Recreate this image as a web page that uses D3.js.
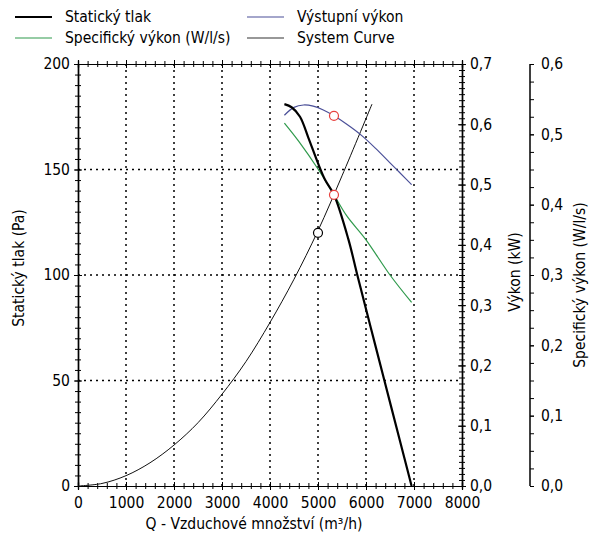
<!DOCTYPE html>
<html>
<head>
<meta charset="utf-8">
<script src="https://cdn.jsdelivr.net/npm/d3@7"></script>
<style>
  body { margin: 0; background: #fff; }
  text { font-family: "DejaVu Sans Condensed", "DejaVu Sans", sans-serif; font-size: 15.5px; fill: #000; }
  .axis path, .axis line { stroke: #000; }
  .grid line { stroke: #000; stroke-width: 1.5; stroke-dasharray: 2,4; }
</style>
</head>
<body>
<svg id="chart" width="590" height="537"></svg>
<script>
// ---- data ----
const qTicks = [0, 1000, 2000, 3000, 4000, 5000, 6000, 7000, 8000];
const paTicks = [0, 50, 100, 150, 200];
const kwTicks = [0, 0.1, 0.2, 0.3, 0.4, 0.5, 0.6, 0.7];
const sfpTicks = [0, 0.1, 0.2, 0.3, 0.4, 0.5, 0.6];

// Statický tlak [Q m3/h, Pa]
const staticPressure = [
  [4300, 181], [4450, 179.5], [4625, 175], [4800, 165], [5000, 153],
  [5150, 145], [5333, 138], [5632, 117], [5819, 100], [6100, 75],
  [6383, 50], [6700, 22], [6950, 0]
];
// Výstupní výkon [Q, kW]
const outputPower = [
  [4300, 0.615], [4500, 0.628], [4700, 0.632], [4900, 0.630], [5100, 0.624],
  [5333, 0.614], [5600, 0.600], [5900, 0.582], [6200, 0.560], [6500, 0.536],
  [6700, 0.520], [6950, 0.500]
];
// Specifický výkon [Q, W/l/s]
const specificPower = [
  [4300, 0.516], [4600, 0.490], [5007, 0.450], [5333, 0.414], [5600, 0.384],
  [6000, 0.350], [6500, 0.300], [6950, 0.261]
];
// System Curve [Q, Pa]
const systemCurve = [
  [0, 0], [500, 1.2], [1000, 4.9], [1500, 11], [2000, 19.4], [2500, 30],
  [3000, 43.5], [3500, 59], [4000, 77.5], [4500, 98], [5000, 121],
  [5500, 147], [6125, 181]
];
// operating points
const pressurePoints = [{ q: 5333, v: 138, c: "#e8423f" }, { q: 5000, v: 120, c: "#000" }];
const powerPoints = [{ q: 5333, v: 0.614, c: "#e8423f" }];

const legendItems = [
  { label: "Statický tlak", color: "#000", w: 2 },
  { label: "Specifický výkon (W/l/s)", color: "#2f9a4c", w: 1.2 },
  { label: "Výstupní výkon", color: "#4a4f98", w: 1.2 },
  { label: "System Curve", color: "#333", w: 1.2 }
];

// ---- layout ----
const svg = d3.select("#chart");
const pLeft = 78, pRight = 462, pTop = 64, pBottom = 486;

const x = d3.scaleLinear().domain([0, 8000]).range([pLeft, pRight]);
const yPa = d3.scaleLinear().domain([0, 200]).range([pBottom, pTop]);
const yKw = d3.scaleLinear().domain([0, 0.7]).range([pBottom, pTop]);
const ySfp = d3.scaleLinear().domain([0, 0.6]).range([pBottom, pTop]);

const comma = v => d3.format(".1f")(v).replace(".", ",");

// grid
const grid = svg.append("g").attr("class", "grid");
grid.selectAll("line.v")
  .data(qTicks.filter(d => d > 0 && d < 8000))
  .enter().append("line")
  .attr("x1", d => x(d)).attr("x2", d => x(d))
  .attr("y1", pTop).attr("y2", pBottom);
grid.selectAll("line.h")
  .data(paTicks.filter(d => d > 0 && d < 200))
  .enter().append("line")
  .attr("x1", pLeft).attr("x2", pRight)
  .attr("y1", d => yPa(d)).attr("y2", d => yPa(d));

// helper for ticks that cross the axis line
function crossAxis(outer, inner, pos, major, minor, fmt) {
  const g = svg.append("g").attr("class", "axis").attr("transform", pos);
  g.append("g").call(outer.tickValues(minor).tickSize(3).tickFormat(""));
  g.append("g").call(inner.tickValues(minor).tickSize(3).tickFormat(""));
  g.append("g").call(inner.tickValues(major).tickSize(4).tickFormat(""));
  const lab = g.append("g").call(outer.tickValues(major).tickSize(4).tickPadding(4).tickFormat(fmt));
  g.selectAll(".domain").attr("stroke-width", 1.2);
  return lab;
}

const d1 = d3.range(0, 8001, 200);
const bottomAx = crossAxis(d3.axisBottom(x), d3.axisTop(x), `translate(0,${pBottom})`, qTicks, d1, d3.format("d"));
bottomAx.selectAll("text").attr("dy", "0.9em");
crossAxis(d3.axisTop(x), d3.axisBottom(x), `translate(0,${pTop})`, qTicks, d1, "");

const leftAx = crossAxis(d3.axisLeft(yPa), d3.axisRight(yPa), `translate(${pLeft},0)`, paTicks, d3.range(0, 201, 5), d3.format("d"));
const rightAx = crossAxis(d3.axisRight(yKw), d3.axisLeft(yKw), `translate(${pRight},0)`, kwTicks, d3.range(0, 0.7001, 0.01), comma);

// second right axis (specific power)
const sfpAx = svg.append("g").attr("class", "axis").attr("transform", "translate(530,0)");
sfpAx.append("g").call(d3.axisRight(ySfp).tickValues(d3.range(0, 0.6001, 0.025)).tickSize(4).tickFormat(""));
sfpAx.append("g").call(d3.axisRight(ySfp).tickValues(sfpTicks).tickSize(4).tickPadding(7).tickFormat(comma));
sfpAx.selectAll(".domain").attr("d", `M0,${pTop}V${pBottom}`).attr("stroke", "#444");
sfpAx.selectAll(".tick line").attr("stroke", "#444");

svg.selectAll(".axis text").style("font-family", '"DejaVu Sans Condensed", "DejaVu Sans", sans-serif').style("font-size", "15.5px");

// axis titles
svg.append("text").attr("transform", "translate(24,268) rotate(-90)").attr("text-anchor", "middle").text("Statický tlak (Pa)");
svg.append("text").attr("transform", "translate(520,272) rotate(-90)").attr("text-anchor", "middle").text("Výkon (kW)");
svg.append("text").attr("transform", "translate(585,285) rotate(-90)").attr("text-anchor", "middle").text("Specifický výkon (W/l/s)");
svg.append("text").attr("x", 254).attr("y", 529).attr("text-anchor", "middle").text("Q - Vzduchové množství (m³/h)");

// curves
const lineFor = ys => d3.line().x(d => x(d[0])).y(d => ys(d[1])).curve(d3.curveCatmullRom);
svg.append("path").datum(systemCurve).attr("d", lineFor(yPa)).attr("fill", "none").attr("stroke", "#111").attr("stroke-width", 1);
svg.append("path").datum(outputPower).attr("d", lineFor(yKw)).attr("fill", "none").attr("stroke", legendItems[2].color).attr("stroke-width", 1.2);
svg.append("path").datum(specificPower).attr("d", lineFor(ySfp)).attr("fill", "none").attr("stroke", legendItems[1].color).attr("stroke-width", 1.2);
svg.append("path").datum(staticPressure).attr("d", lineFor(yPa)).attr("fill", "none").attr("stroke", "#000").attr("stroke-width", 2.2);

// operating points
svg.selectAll("circle.pa").data(pressurePoints).enter().append("circle")
  .attr("cx", d => x(d.q)).attr("cy", d => yPa(d.v)).attr("r", 4.5)
  .attr("fill", "#fff").attr("stroke", d => d.c).attr("stroke-width", 1.2);
svg.selectAll("circle.kw").data(powerPoints).enter().append("circle")
  .attr("cx", d => x(d.q)).attr("cy", d => yKw(d.v)).attr("r", 4.5)
  .attr("fill", "#fff").attr("stroke", d => d.c).attr("stroke-width", 1.2);

// legend
const legend = svg.append("g").selectAll("g").data(legendItems).enter().append("g")
  .attr("transform", (d, i) => `translate(${i < 2 ? 15 : 247},${i % 2 === 0 ? 17 : 38})`);
legend.append("line").attr("x1", 0).attr("x2", 37).attr("y1", 0).attr("y2", 0)
  .attr("stroke", d => d.color).attr("stroke-width", d => d.w);
legend.append("text").attr("x", 50).attr("dy", "0.35em").text(d => d.label);
</script>
</body>
</html>
